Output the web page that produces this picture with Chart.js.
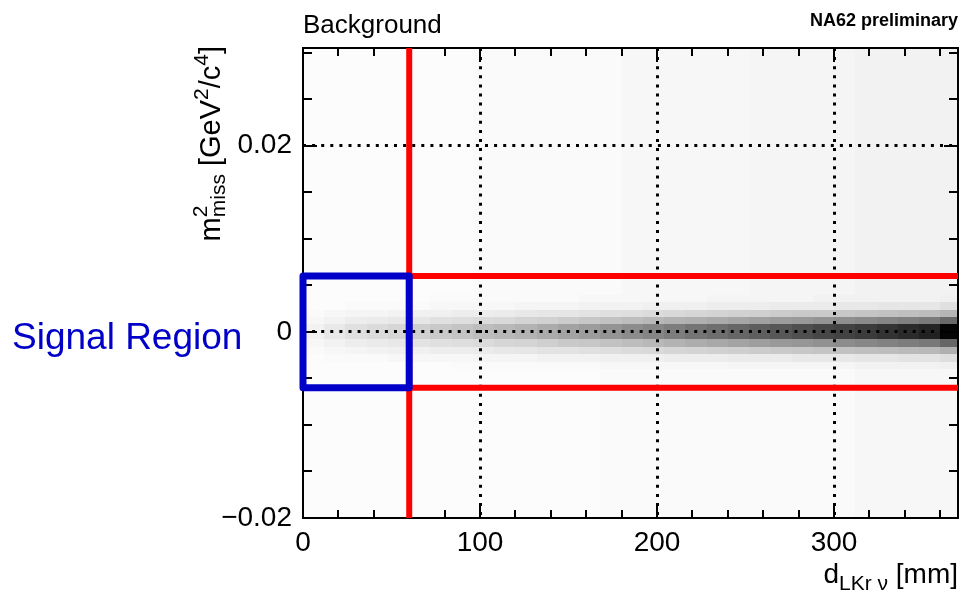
<!DOCTYPE html>
<html>
<head>
<meta charset="utf-8">
<script src="https://cdn.jsdelivr.net/npm/chart.js@4/dist/chart.umd.min.js"></script>
<style>
html,body{margin:0;padding:0;background:#fff;}
canvas{display:block;}
</style>
</head>
<body>
<canvas id="c" width="964" height="593"></canvas>
<script>
// ---------- DATA ----------
// x bins (d_LKr nu, mm), 12 mm wide
const xBinStart = [0,12,24,36,48,60,72,84,96,108,120,132,144,156,168,180,192,204,216,228,240,252,264,276,288,300,312,324,336,348,360];
const xBinWidth = 12;
// y bin edges of the central band (m2_miss, GeV2/c4)
const yBandEdges = [-0.004,-0.0032,-0.0024,-0.0016,-0.0008,0,0.0008,0.0016,0.0024,0.0032,0.004];
// relative counts (0-100) per x bin, for each y row, from bottom row to top row
const rowM4 = [1,1,1,1,1,1,1,2,2,2,2,2,2,2,3,3,3,3,3,3,4,4,4,4,4,4,5,5,5,5,6];
const rowM3 = [1,2,2,2,3,3,3,3,4,4,4,5,5,5,6,6,6,7,7,7,8,8,8,9,9,9,10,10,11,11,13];
const rowM2 = [2,3,4,5,6,6,7,7,8,9,10,11,11,12,13,14,15,16,17,18,19,20,21,22,23,24,25,26,27,28,31];
const rowM1 = [3,5,7,8,9,11,12,13,14,16,17,19,21,22,24,26,28,30,32,34,36,38,40,41,43,45,47,49,51,53,60];
const rowM0 = [5,9,12,14,16,19,21,23,26,28,30,33,36,39,42,45,48,51,54,57,60,63,66,69,72,74,77,80,83,87,98];
const rowP0 = [5,9,12,14,16,19,21,23,26,28,30,33,36,39,42,45,48,51,54,57,60,63,66,69,72,74,77,80,83,86,98];
const rowP1 = [3,5,7,8,9,10,12,13,14,15,17,18,20,22,24,26,28,30,31,33,35,37,39,40,42,44,46,48,50,52,59];
const rowP2 = [2,3,4,4,5,6,6,7,7,8,9,10,10,11,12,13,14,15,16,17,18,19,20,21,21,22,23,24,25,26,29];
const rowP3 = [1,1,2,2,2,2,3,3,3,3,4,4,4,5,5,5,6,6,6,7,7,7,8,8,8,9,9,10,10,10,12];
const rowP4 = [1,1,1,1,1,1,2,2,2,2,2,2,2,3,3,3,3,3,3,4,4,4,4,4,5,5,5,5,5,5,6];
// faint background outside the band
const bgUpper = [1,1,1,1,1,1,1,1,2,2,2,2,2,2,2,3,3,3,3,3,3,4,4,4,4,4,5,5,5,5,5];
const bgLower = [1,1,1,1,1,1,1,1,1,1,1,1,1,1,2,2,2,2,2,2,2,2,2,2,2,2,3,3,3,3,3];
const bandRows = [rowM4,rowM3,rowM2,rowM1,rowM0,rowP0,rowP1,rowP2,rowP3,rowP4];

// axis ranges
const xRange = [0, 370];
const yRange = [-0.02, 0.0305];
// cuts
const cutDistance = 60;
const cutMissMass = [-0.006, 0.006];
// tick labels
const xTickLabels = {0:'0',100:'100',200:'200',300:'300'};
const yTickLabels = [[0.02,'0.02'],[0,'0'],[-0.02,'\u22120.02']];

// ---------- RENDER ----------
const FONT = '"Liberation Sans", Arial, Helvetica, sans-serif';
function shade(v){ const g = Math.round(255*(1 - v/100)); return 'rgb('+g+','+g+','+g+')'; }
function near(a,b){ return Math.abs(a-b) < 1e-9; }

const heatmapPlugin = {
  id: 'heatmap',
  beforeDraw(chart){
    const ctx = chart.ctx, xs = chart.scales.x, ys = chart.scales.y, a = chart.chartArea;
    ctx.save();
    ctx.fillStyle = '#fff';
    ctx.fillRect(0,0,chart.width,chart.height);
    ctx.beginPath(); ctx.rect(a.left, a.top, a.right-a.left, a.bottom-a.top); ctx.clip();
    const yTop = ys.getPixelForValue(yRange[1]), yBot = ys.getPixelForValue(yRange[0]);
    const pBandTop = Math.round(ys.getPixelForValue(yBandEdges[yBandEdges.length-1]));
    const pBandBot = Math.round(ys.getPixelForValue(yBandEdges[0]));
    xBinStart.forEach((x0,i)=>{
      const px0 = Math.round(xs.getPixelForValue(x0));
      const px1 = Math.round(xs.getPixelForValue(x0 + xBinWidth));
      ctx.fillStyle = shade(bgUpper[i]);
      ctx.fillRect(px0, Math.floor(yTop), px1-px0, pBandTop-Math.floor(yTop));
      ctx.fillStyle = shade(bgLower[i]);
      ctx.fillRect(px0, pBandBot, px1-px0, Math.ceil(yBot)-pBandBot);
      bandRows.forEach((row,j)=>{
        const py0 = Math.round(ys.getPixelForValue(yBandEdges[j+1]));
        const py1 = Math.round(ys.getPixelForValue(yBandEdges[j]));
        ctx.fillStyle = shade(row[i]);
        ctx.fillRect(px0, py0, px1-px0, py1-py0);
      });
    });
    ctx.restore();
  }
};

const framePlugin = {
  id: 'frame',
  beforeDatasetsDraw(chart){
    const ctx = chart.ctx, xs = chart.scales.x, ys = chart.scales.y, a = chart.chartArea;
    ctx.save();
    ctx.strokeStyle = '#000';
    ctx.lineWidth = 2;
    ctx.beginPath();
    xs.ticks.forEach(t=>{
      const v = t.value;
      const major = Math.abs(v/100 - Math.round(v/100)) < 1e-9;
      const len = major ? 14 : 8;
      const px = Math.round(xs.getPixelForValue(v));
      ctx.moveTo(px, a.bottom); ctx.lineTo(px, a.bottom - len);
      ctx.moveTo(px, a.top); ctx.lineTo(px, a.top + len);
    });
    ys.ticks.forEach(t=>{
      const v = t.value;
      const major = Math.abs(v/0.02 - Math.round(v/0.02)) < 1e-6;
      const len = major ? 14 : 9;
      const py = Math.round(ys.getPixelForValue(v));
      ctx.moveTo(a.left, py); ctx.lineTo(a.left + len, py);
      ctx.moveTo(a.right, py); ctx.lineTo(a.right - len, py);
    });
    ctx.stroke();
    ctx.lineWidth = 2;
    ctx.strokeRect(a.left, a.top, a.right-a.left, a.bottom-a.top);
    ctx.restore();
  }
};

function drawParts(ctx, parts, x0, y0){
  let x = x0;
  parts.forEach(p=>{
    ctx.font = p.size + 'px ' + FONT;
    ctx.fillText(p.t, x, y0 + (p.dy||0));
    x += ctx.measureText(p.t).width;
  });
}
function partsWidth(ctx, parts){
  let w = 0;
  parts.forEach(p=>{ ctx.font = p.size+'px '+FONT; w += ctx.measureText(p.t).width; });
  return w;
}

const textPlugin = {
  id: 'texts',
  afterDraw(chart){
    const ctx = chart.ctx, a = chart.chartArea;
    ctx.save();
    ctx.fillStyle = '#000';
    ctx.textBaseline = 'alphabetic';
    ctx.textAlign = 'left';
    ctx.font = '26px ' + FONT;
    ctx.fillText('Background', 303, 33);
    ctx.font = 'bold 18px ' + FONT;
    ctx.textAlign = 'right';
    ctx.fillText('NA62 preliminary', 958, 26);
    ctx.textAlign = 'left';
    ctx.fillStyle = '#0000c8';
    ctx.font = '37px ' + FONT;
    ctx.fillText('Signal Region', 12, 349);

    // x axis title: d_{LKr nu} [mm]
    ctx.fillStyle = '#000';
    const xParts = [{t:'d',size:28},{t:'LKr \u03bd',size:21,dy:7},{t:' [mm]',size:28}];
    const xw = partsWidth(ctx, xParts);
    drawParts(ctx, xParts, a.right - xw, 583);

    // y axis title: m^2_miss [GeV^2/c^4], rotated, ending at top of frame
    ctx.save();
    ctx.translate(220, a.top - 2);
    ctx.rotate(-Math.PI/2);
    ctx.font = '29px ' + FONT;
    const wm = ctx.measureText('m').width;
    ctx.font = '21px ' + FONT;
    const wsup = ctx.measureText('2').width, wsub = ctx.measureText('miss').width;
    const w2 = ctx.measureText('2').width, w4 = ctx.measureText('4').width;
    ctx.font = '29px ' + FONT;
    const wg = ctx.measureText(' [GeV').width, wc = ctx.measureText('/c').width, wb = ctx.measureText(']').width;
    const total = wm + Math.max(wsup,wsub) + wg + w2 + wc + w4 + wb;
    let x = -total;
    ctx.font = '29px ' + FONT; ctx.fillText('m', x, 0); x += wm;
    ctx.font = '21px ' + FONT; ctx.fillText('2', x, -13); ctx.fillText('miss', x, 5); x += Math.max(wsup,wsub);
    ctx.font = '29px ' + FONT; ctx.fillText(' [GeV', x, 0); x += wg;
    ctx.font = '21px ' + FONT; ctx.fillText('2', x, -12); x += w2;
    ctx.font = '29px ' + FONT; ctx.fillText('/c', x, 0); x += wc;
    ctx.font = '21px ' + FONT; ctx.fillText('4', x, -12); x += w4;
    ctx.font = '29px ' + FONT; ctx.fillText(']', x, 0);
    ctx.restore();
    ctx.restore();
  }
};

const redColor = '#ff0000';
const blueColor = '#0000c8';

const datasets = [
  { label:'signal box', order:0,
    data:[{x:xRange[0],y:cutMissMass[0]},{x:xRange[0],y:cutMissMass[1]},{x:cutDistance,y:cutMissMass[1]},{x:cutDistance,y:cutMissMass[0]},{x:xRange[0],y:cutMissMass[0]}],
    borderColor: blueColor, borderWidth: 7, borderJoinStyle:'round', borderCapStyle:'round' },
  { label:'distance cut', order:1,
    data:[{x:cutDistance,y:yRange[0]},{x:cutDistance,y:yRange[1]}],
    borderColor: redColor, borderWidth: 6 },
  { label:'upper mass cut', order:1,
    data:[{x:cutDistance,y:cutMissMass[1]},{x:xRange[1],y:cutMissMass[1]}],
    borderColor: redColor, borderWidth: 6 },
  { label:'lower mass cut', order:1,
    data:[{x:cutDistance,y:cutMissMass[0]},{x:xRange[1],y:cutMissMass[0]}],
    borderColor: redColor, borderWidth: 6 }
];
datasets.forEach(d=>{ d.showLine = true; d.pointRadius = 0; d.pointHoverRadius = 0; d.fill = false; d.clip = false; d.tension = 0; });

new Chart(document.getElementById('c'), {
  type: 'scatter',
  data: { datasets },
  plugins: [heatmapPlugin, framePlugin, textPlugin],
  options: {
    responsive: false,
    devicePixelRatio: 1,
    animation: false,
    layout: { padding: { left: 0, right: 6, top: 48, bottom: 0 } },
    plugins: { legend: { display: false }, tooltip: { enabled: false } },
    scales: {
      x: {
        type: 'linear', min: xRange[0], max: xRange[1],
        afterFit(s){ s.height = 75; },
        ticks: {
          stepSize: 20, includeBounds: false, autoSkip: false, maxRotation: 0, maxTicksLimit: 100,
          padding: 8, color: '#000', font: { family: FONT, size: 28 },
          callback(v){ return xTickLabels[v] !== undefined ? xTickLabels[v] : ''; }
        },
        grid: {
          drawTicks: false, lineWidth: 3,
          color(c){ const v = c.tick ? c.tick.value : -1; return (v>0 && Math.abs(v/100-Math.round(v/100))<1e-9) ? '#000' : 'rgba(0,0,0,0)'; }
        },
        border: { display: false, dash: [3, 6.1] }
      },
      y: {
        type: 'linear', min: yRange[0], max: yRange[1],
        afterFit(s){ s.width = 303; },
        ticks: {
          stepSize: 0.005, includeBounds: false, autoSkip: false, maxTicksLimit: 100,
          padding: 11, color: '#000', font: { family: FONT, size: 28 },
          callback(v){ for (const [val,lab] of yTickLabels){ if (near(v,val)) return lab; } return ''; }
        },
        grid: {
          drawTicks: false, lineWidth: 3,
          color(c){ const v = c.tick ? c.tick.value : 1; return (near(v,0.02) || near(v,0)) ? '#000' : 'rgba(0,0,0,0)'; }
        },
        border: { display: false, dash: [3, 6.1] }
      }
    }
  }
});
</script>
</body>
</html>
